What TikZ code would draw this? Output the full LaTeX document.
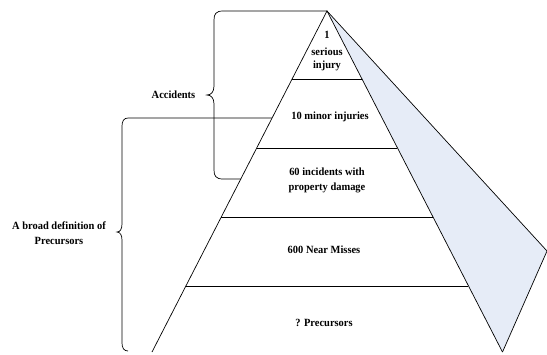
\documentclass[tikz,border=0pt]{standalone}
\usepackage{fontspec}
\setmainfont[FakeStretch=0.95]{Liberation Serif}
\definecolor{paleblue}{RGB}{230,236,247}
\begin{document}
\begin{tikzpicture}[x=1pt,y=-1pt,
  edge/.style={line width=0.7pt,black},
  lbl/.style={font=\bfseries\fontsize{11}{15}\selectfont,align=center,inner sep=0pt}]
\useasboundingbox (0,0) rectangle (547,354);
% pyramid corners
\coordinate (apex) at (327,11);
\coordinate (bl) at (152,352);
\coordinate (br) at (502.5,352);
\coordinate (fan) at (547,251);
% shaded wedge
\fill[paleblue] (apex) -- (br) -- (fan) -- cycle;
\draw[edge] (apex) -- (fan) -- (br);
% pyramid sides
\draw[edge] (bl) -- (apex) -- (br);
% layer lines
\coordinate (l1a) at (292.1,79);  \coordinate (l1b) at (361.9,79);
\coordinate (l2a) at (256.7,148); \coordinate (l2b) at (397.3,148);
\coordinate (l3a) at (221.3,217); \coordinate (l3b) at (432.7,217);
\coordinate (l4a) at (185.9,286); \coordinate (l4b) at (468.1,286);
\draw[edge] (l1a) -- (l1b);
\draw[edge] (l2a) -- (l2b);
\draw[edge] (l3a) -- (l3b);
\draw[edge] (l4a) -- (l4b);
% brace: accidents
\coordinate (accEnd) at (241,179);
\draw[edge] (apex) -- (223,11) .. controls (216,11) and (214,14) .. (214,20)
  -- (214,86) .. controls (214,92) and (211,95) .. (207,95)
  .. controls (211,95) and (214,98) .. (214,104)
  -- (214,170) .. controls (214,176) and (216,179) .. (223,179) -- (accEnd);
% brace: broad definition
\coordinate (broadEnd) at (272,118);
\draw[edge] (broadEnd) -- (128,118) .. controls (124,118) and (122,121) .. (122,126)
  -- (122,224) .. controls (122,229) and (120,232) .. (117,232)
  .. controls (120,232) and (122,235) .. (122,240)
  -- (122,343) .. controls (122,348) and (124,351) .. (128,351);
% labels
\node[lbl] (acc) at (173.5,95) {Accidents};
\node[lbl] (broad) at (59,233) {A broad definition of\\Precursors};
\node[lbl] (t1) at (327,51.5) {1\\[2pt]serious\\[-2pt]injury};
\node[lbl] (t2) at (330,117) {10 minor injuries};
\node[lbl] (t3) at (327,180) {60 incidents with\\property damage};
\node[lbl] (t4) at (324,250) {600 Near Misses};
\node[lbl] (t5) at (324,323) {? Precursors};
\end{tikzpicture}
\end{document}
